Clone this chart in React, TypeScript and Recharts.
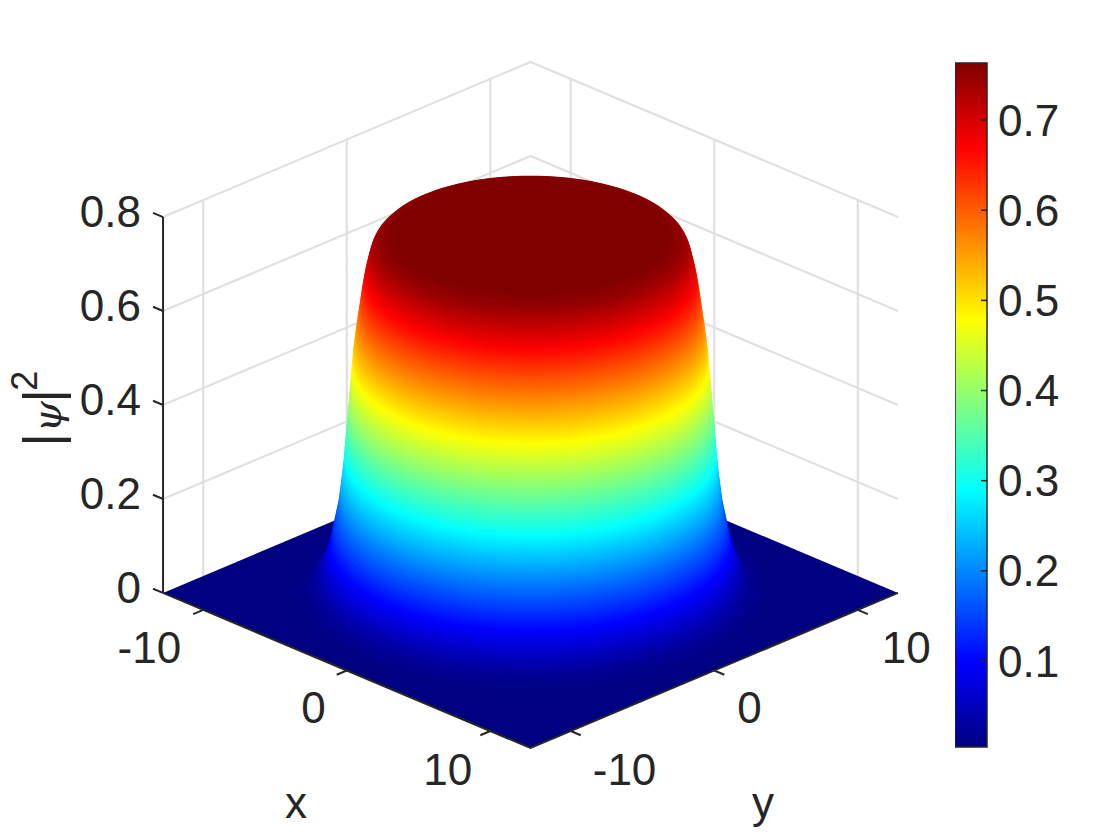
import { Area, Bar, ComposedChart, Line, ReferenceDot, XAxis, YAxis } from 'recharts'

// surface profile: height level -> radius of the dome at that height
const surfaceLevels = [
  0.005, 0.01, 0.02, 0.03, 0.04, 0.05, 0.06, 0.07, 0.08, 0.09, 0.1, 0.11, 0.12, 0.13, 0.14, 0.15, 0.16,
  0.17, 0.18, 0.19, 0.2, 0.21, 0.22, 0.23, 0.24, 0.25, 0.26, 0.27, 0.28, 0.29, 0.3, 0.31, 0.32, 0.33,
  0.34, 0.35, 0.36, 0.37, 0.38, 0.39, 0.4, 0.41, 0.42, 0.43, 0.44, 0.45, 0.46, 0.47, 0.48, 0.49, 0.5,
  0.51, 0.52, 0.53, 0.54, 0.55, 0.56, 0.57, 0.58, 0.59, 0.6, 0.61, 0.62, 0.63, 0.64, 0.65, 0.66, 0.67,
  0.68, 0.69, 0.7, 0.71, 0.72, 0.73, 0.74, 0.75, 0.755, 0.76, 0.7633,
]
const surfaceRadii = [
  12, 11.3, 10.85, 10.6, 10.42, 10.3, 10.2, 10.12, 10.05, 9.98, 9.92, 9.86, 9.8, 9.75, 9.7, 9.65, 9.6,
  9.55, 9.5, 9.46, 9.43, 9.4, 9.37, 9.34, 9.31, 9.28, 9.26, 9.23, 9.21, 9.19, 9.17, 9.15, 9.13, 9.11,
  9.09, 9.07, 9.05, 9.03, 9.01, 8.99, 8.97, 8.95, 8.93, 8.91, 8.89, 8.87, 8.85, 8.83, 8.81, 8.79, 8.77,
  8.75, 8.72, 8.69, 8.66, 8.63, 8.6, 8.56, 8.53, 8.49, 8.46, 8.42, 8.39, 8.35, 8.32, 8.28, 8.24, 8.2,
  8.15, 8.1, 8.04, 7.98, 7.92, 7.84, 7.72, 7.5, 7.3, 7.0, 6.75,
]

const planeTicks = [-10, 0, 10]
const heightTicks = [0, 0.2, 0.4, 0.6, 0.8]
const colorbarTicks = [0.1, 0.2, 0.3, 0.4, 0.5, 0.6, 0.7]
const colorRange = [0.0046, 0.7633]
const jetStops: [number, number, number, number][] = [
  [0, 0, 0, 0.5],
  [0.125, 0, 0, 1],
  [0.375, 0, 1, 1],
  [0.625, 1, 1, 0],
  [0.875, 1, 0, 0],
  [1, 0.5, 0, 0],
]

const EDGE = 12.8
const TILT = 0.01289
const TICK_LEN = 0.7
const INK = '#262626'
const GRID = '#e0e0e0'
const FONT = '"Liberation Sans", Arial, sans-serif'
const FONT_SIZE = 44
// label nudges per tick, in pixels
const xLabelNudge: Record<number, [number, number]> = { [-10]: [-12, 49], 0: [-11, 48], 10: [-8, 50] }
const yLabelNudge: Record<number, [number, number]> = { [-10]: [12, 50], 0: [13, 48], 10: [14, 49] }

// the view is fixed, so x/y/z just fold down into the chart's two axes
const project = (x: number, y: number, z: number) => ({ h: x + y, w: z - TILT * (x - y) })

const toHex = (v: number) => Math.round(v * 255).toString(16).padStart(2, '0')
const jetAt = (t: number) => {
  const c = Math.min(1, Math.max(0, t))
  const i = Math.max(0, jetStops.findIndex((s) => s[0] >= c) - 1)
  const a = jetStops[i]
  const b = jetStops[i + 1]
  const f = (c - a[0]) / (b[0] - a[0])
  return '#' + [1, 2, 3].map((k) => toHex(a[k] + (b[k] - a[k]) * f)).join('')
}
const levelColor = (z: number) => jetAt((z - colorRange[0]) / (colorRange[1] - colorRange[0]))

const segments = (pts: [number, number, number][]) => pts.map(([x, y, z]) => project(x, y, z))

const gridSegments = [
  ...planeTicks.map((t) => segments([[-EDGE, t, 0], [-EDGE, t, 0.8]])),
  ...planeTicks.map((t) => segments([[t, EDGE, 0], [t, EDGE, 0.8]])),
  ...heightTicks.slice(1).map((z) => segments([[-EDGE, -EDGE, z], [-EDGE, EDGE, z], [EDGE, EDGE, z]])),
]
const axisSegments = [
  segments([[-EDGE, -EDGE, 0.8], [-EDGE, -EDGE, 0]]),
  segments([[-EDGE, -EDGE, 0], [EDGE, -EDGE, 0], [EDGE, EDGE, 0]]),
  ...planeTicks.map((t) => segments([[t, -EDGE, 0], [t, -EDGE - TICK_LEN, 0]])),
  ...planeTicks.map((t) => segments([[EDGE, t, 0], [EDGE + TICK_LEN, t, 0]])),
  ...heightTicks.map((z) => segments([[-EDGE, -EDGE, z], [-EDGE - TICK_LEN, -EDGE, z]])),
]

const floorBand = [
  { h: -2 * EDGE, band: [0, 0] },
  { h: 0, band: [project(EDGE, -EDGE, 0).w, project(-EDGE, EDGE, 0).w] },
  { h: 2 * EDGE, band: [0, 0] },
]

// one filled disc of the dome, as an upper and a lower arc
const discAngles = Array.from({ length: 61 }, (_, i) => Math.PI - (i * Math.PI) / 60)
const discBand = (z: number, r: number) =>
  discAngles.map((a) => {
    const s = Math.SQRT2 * r * Math.sin(a) * TILT
    return { h: Math.SQRT2 * r * Math.cos(a), band: [z - s, z + s] }
  })

// where the next disc's front edge falls inside this disc, as a gradient offset
const innerOffset = (i: number) => {
  if (i >= surfaceLevels.length - 1) return 0
  const r = surfaceRadii[i]
  const front = (surfaceLevels[i + 1] - surfaceLevels[i]) / (Math.SQRT2 * TILT) + (r - surfaceRadii[i + 1])
  return Math.max(0, 1 - front / r)
}

const TextAt = ({ cx, cy, dx = 0, dy = 0, value, anchor = 'middle' }: any) => (
  <text x={cx + dx} y={cy + dy} textAnchor={anchor} fontFamily={FONT} fontSize={FONT_SIZE} fill={INK}>
    {value}
  </text>
)

const HeightTick = ({ x, y, payload }: any) => (
  <text x={x + 1} y={y + 10} textAnchor="end" fontFamily={FONT} fontSize={FONT_SIZE} fill={INK}>
    {payload.value}
  </text>
)

const ZLabel = ({ cx, cy }: any) => (
  <g transform={`translate(${cx} ${cy}) rotate(-90)`} fill={INK} textAnchor="middle">
    <text x={0} y={0} fontFamily={FONT} fontSize={51}>|</text>
    <text x={23} y={1} fontFamily='"DejaVu Serif", serif' fontStyle="italic" fontSize={40}>ψ</text>
    <text x={44} y={0} fontFamily={FONT} fontSize={51}>|</text>
    <text x={59} y={-23} fontFamily={FONT} fontSize={36}>2</text>
  </g>
)

function Colorbar() {
  return (
    <ComposedChart
      width={130}
      height={748}
      data={[{ name: 'c', range: colorRange }]}
      margin={{ top: 63, right: 0, bottom: 1, left: 0 }}
      barCategoryGap={0}
      style={{ position: 'absolute', left: 955, top: 0 }}
    >
      <defs>
        <linearGradient id="jetBar" x1="0" y1="1" x2="0" y2="0">
          {jetStops.map((s) => (
            <stop key={s[0]} offset={s[0]} stopColor={jetAt(s[0])} />
          ))}
        </linearGradient>
      </defs>
      <XAxis dataKey="name" hide />
      <YAxis
        orientation="right"
        type="number"
        domain={colorRange}
        ticks={colorbarTicks}
        width={98}
        axisLine={false}
        tickSize={-6}
        tickMargin={17}
        tickLine={{ stroke: INK, strokeWidth: 1.5 }}
        tick={{ fontFamily: FONT, fontSize: FONT_SIZE, fill: INK }}
      />
      <Bar dataKey="range" fill="url(#jetBar)" stroke={INK} strokeWidth={1.5} isAnimationActive={false} />
    </ComposedChart>
  )
}

export default function App() {
  return (
    <div style={{ position: 'relative', width: 1120, height: 840, margin: -8, background: '#fff' }}>
      <ComposedChart width={1120} height={840} margin={{ top: 62, right: 222, bottom: 92, left: 0 }}>
        <defs>
          {surfaceLevels.map((z, i) => (
            <radialGradient key={z} id={'disc' + i}>
              <stop offset={innerOffset(i)} stopColor={levelColor(surfaceLevels[i + 1] ?? z)} />
              <stop offset={1} stopColor={levelColor(z)} />
            </radialGradient>
          ))}
        </defs>
        <XAxis type="number" dataKey="h" domain={[-2 * EDGE, 2 * EDGE]} hide />
        <YAxis
          type="number"
          domain={[-0.33, 1.1217]}
          ticks={heightTicks}
          width={153}
          axisLine={false}
          tickLine={false}
          tickMargin={7}
          tick={HeightTick}
        />
        {gridSegments.map((d, i) => (
          <Line
            key={'grid' + i}
            data={d}
            dataKey="w"
            stroke={GRID}
            strokeWidth={2.2}
            dot={false}
            zIndex={50}
            isAnimationActive={false}
          />
        ))}
        <Area data={floorBand} dataKey="band" type="linear" fill={jetAt(0)} fillOpacity={1} stroke="none" isAnimationActive={false} />
        {surfaceLevels.map((z, i) => (
          <Area
            key={'disc' + i}
            data={discBand(z, surfaceRadii[i])}
            dataKey="band"
            type="linear"
            fill={`url(#disc${i})`}
            fillOpacity={1}
            stroke="none"
            dot={false}
            activeDot={false}
            isAnimationActive={false}
          />
        ))}
        {axisSegments.map((d, i) => (
          <Line key={'axis' + i} data={d} dataKey="w" stroke={INK} strokeWidth={2} dot={false} isAnimationActive={false} />
        ))}
        {planeTicks.map((t) => {
          const p = project(t, -EDGE - TICK_LEN, 0)
          const [dx, dy] = xLabelNudge[t]
          return (
            <ReferenceDot
              key={'xt' + t}
              x={p.h}
              y={p.w}
              ifOverflow="visible"
              shape={(s: any) => <TextAt {...s} value={t} anchor="end" dx={dx} dy={dy} />}
            />
          )
        })}
        {planeTicks.map((t) => {
          const p = project(EDGE + TICK_LEN, t, 0)
          const [dx, dy] = yLabelNudge[t]
          return (
            <ReferenceDot
              key={'yt' + t}
              x={p.h}
              y={p.w}
              ifOverflow="visible"
              shape={(s: any) => <TextAt {...s} value={t} anchor="start" dx={dx} dy={dy} />}
            />
          )
        })}
        <ReferenceDot x={-16.34} y={-0.478} ifOverflow="visible" shape={(s: any) => <TextAt {...s} value="x" />} />
        <ReferenceDot x={16.2} y={-0.478} ifOverflow="visible" shape={(s: any) => <TextAt {...s} value="y" />} />
        <ReferenceDot x={-32.8} y={0.326} ifOverflow="visible" shape={(s: any) => <ZLabel {...s} />} />
      </ComposedChart>
      <Colorbar />
    </div>
  )
}
